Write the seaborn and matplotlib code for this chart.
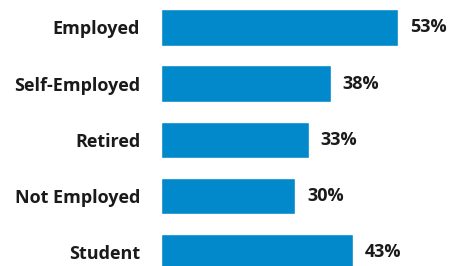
import pandas as pd
import matplotlib
matplotlib.use('Agg')
import matplotlib.pyplot as plt
import seaborn as sns

# Data
categories = ['Employed', 'Self-Employed', 'Retired', 'Not Employed', 'Student']
values = [53, 38, 33, 30, 43]

BAR_COLOR = '#0189CB'
TEXT_COLOR = '#1a1a1a'

sns.set_style('white')
plt.rcParams['font.family'] = ['Open Sans', 'DejaVu Sans']

df = pd.DataFrame({'category': categories, 'value': values})

fig = plt.figure(figsize=(4.54, 2.66), dpi=100)
ax = fig.add_axes([161 / 454, 0, 1 - 161 / 454, 1])

sns.barplot(data=df, y='category', x='value', color=BAR_COLOR,
            saturation=1, width=0.65, ax=ax, orient='h')

# value labels to the right of each bar
for i, v in enumerate(values):
    ax.annotate(f'{v}%', xy=(v, i), xytext=(12, 0), textcoords='offset pixels',
                va='center', ha='left', fontsize=13, fontweight='bold',
                color=TEXT_COLOR)

ax.set_xlim(0, (454 - 161) / 4.47)
ax.set_ylim(4.24, -0.485)
ax.set_xlabel('')
ax.set_ylabel('')
ax.set_xticks([])
ax.tick_params(axis='y', length=0, pad=15, labelsize=13, labelcolor=TEXT_COLOR)
for lbl in ax.get_yticklabels():
    lbl.set_fontweight('bold')
sns.despine(ax=ax, left=True, bottom=True)

fig.savefig('out.png', dpi=100)
